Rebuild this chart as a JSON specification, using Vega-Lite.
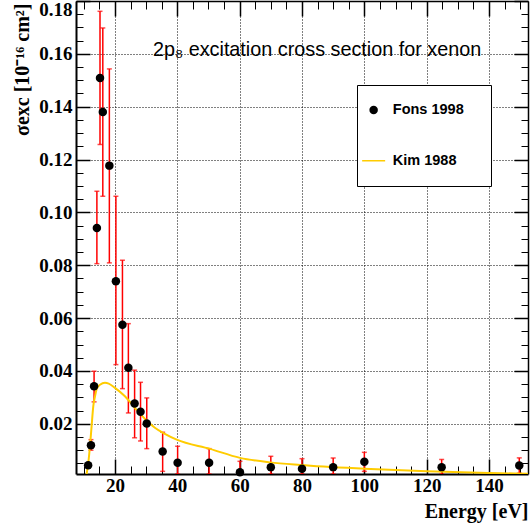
{
  "$schema": "https://vega.github.io/schema/vega-lite/v6.json",
  "width": 452,
  "height": 473,
  "autosize": {"type": "none"},
  "padding": {"left": 76, "top": 1, "right": 2, "bottom": 55},
  "background": "white",
  "config": {
    "view": {"stroke": null},
    "axis": {"domainColor": "black", "tickColor": "black", "labelColor": "black", "titleColor": "black"}
  },
  "title": {
    "text": "2p₈ excitation cross section for xenon",
    "anchor": "start",
    "frame": "group",
    "dx": 77,
    "offset": -76,
    "baseline": "alphabetic",
    "font": "Liberation Sans",
    "fontSize": 19.8,
    "fontWeight": "normal",
    "color": "black"
  },
  "datasets": {
    "fons": [
      {"E": 11.4, "sigma": 0.0043, "lo": 0.0037, "hi": 0.0049, "series": "Fons 1998"},
      {"E": 12.3, "sigma": 0.0119, "lo": 0.0100, "hi": 0.0140, "series": "Fons 1998"},
      {"E": 13.3, "sigma": 0.0342, "lo": 0.0283, "hi": 0.0399, "series": "Fons 1998"},
      {"E": 14.2, "sigma": 0.0941, "lo": 0.0806, "hi": 0.1080, "series": "Fons 1998"},
      {"E": 15.2, "sigma": 0.1509, "lo": 0.1257, "hi": 0.1761, "series": "Fons 1998"},
      {"E": 16.1, "sigma": 0.1380, "lo": 0.1061, "hi": 0.1698, "series": "Fons 1998"},
      {"E": 18.2, "sigma": 0.1177, "lo": 0.0809, "hi": 0.1543, "series": "Fons 1998"},
      {"E": 20.3, "sigma": 0.0739, "lo": 0.0424, "hi": 0.1061, "series": "Fons 1998"},
      {"E": 22.4, "sigma": 0.0575, "lo": 0.0333, "hi": 0.0819, "series": "Fons 1998"},
      {"E": 24.3, "sigma": 0.0412, "lo": 0.0241, "hi": 0.0579, "series": "Fons 1998"},
      {"E": 26.3, "sigma": 0.0277, "lo": 0.0147, "hi": 0.0403, "series": "Fons 1998"},
      {"E": 28.2, "sigma": 0.0246, "lo": 0.0135, "hi": 0.0357, "series": "Fons 1998"},
      {"E": 30.2, "sigma": 0.0201, "lo": 0.0106, "hi": 0.0298, "series": "Fons 1998"},
      {"E": 35.3, "sigma": 0.0095, "lo": 0.0020, "hi": 0.0168, "series": "Fons 1998"},
      {"E": 40.1, "sigma": 0.0053, "lo": 0.0010, "hi": 0.0115, "series": "Fons 1998"},
      {"E": 50.2, "sigma": 0.0053, "lo": 0.0010, "hi": 0.0106, "series": "Fons 1998"},
      {"E": 60.1, "sigma": 0.0017, "lo": 0.0010, "hi": 0.0058, "series": "Fons 1998"},
      {"E": 70.0, "sigma": 0.0036, "lo": 0.0010, "hi": 0.0077, "series": "Fons 1998"},
      {"E": 80.0, "sigma": 0.0030, "lo": 0.0010, "hi": 0.0068, "series": "Fons 1998"},
      {"E": 90.0, "sigma": 0.0036, "lo": 0.0010, "hi": 0.0071, "series": "Fons 1998"},
      {"E": 100.0, "sigma": 0.0056, "lo": 0.0020, "hi": 0.0092, "series": "Fons 1998"},
      {"E": 124.8, "sigma": 0.0036, "lo": 0.0010, "hi": 0.0065, "series": "Fons 1998"},
      {"E": 149.7, "sigma": 0.0042, "lo": 0.0013, "hi": 0.0071, "series": "Fons 1998"}
    ],
    "kim": [
      {"E": 10.9, "sigma": 0.0010, "series": "Kim 1988"},
      {"E": 11.44, "sigma": 0.0052, "series": "Kim 1988"},
      {"E": 11.98, "sigma": 0.0115, "series": "Kim 1988"},
      {"E": 12.5, "sigma": 0.0190, "series": "Kim 1988"},
      {"E": 13.04, "sigma": 0.0266, "series": "Kim 1988"},
      {"E": 13.6, "sigma": 0.0304, "series": "Kim 1988"},
      {"E": 14.1, "sigma": 0.0330, "series": "Kim 1988"},
      {"E": 15.2, "sigma": 0.0348, "series": "Kim 1988"},
      {"E": 16.8, "sigma": 0.0355, "series": "Kim 1988"},
      {"E": 18.0, "sigma": 0.0352, "series": "Kim 1988"},
      {"E": 20.0, "sigma": 0.0336, "series": "Kim 1988"},
      {"E": 23.2, "sigma": 0.0304, "series": "Kim 1988"},
      {"E": 26.4, "sigma": 0.0260, "series": "Kim 1988"},
      {"E": 29.6, "sigma": 0.0219, "series": "Kim 1988"},
      {"E": 32.8, "sigma": 0.0185, "series": "Kim 1988"},
      {"E": 36.0, "sigma": 0.0162, "series": "Kim 1988"},
      {"E": 39.8, "sigma": 0.0140, "series": "Kim 1988"},
      {"E": 50.5, "sigma": 0.0105, "series": "Kim 1988"},
      {"E": 60.1, "sigma": 0.0071, "series": "Kim 1988"},
      {"E": 69.7, "sigma": 0.0054, "series": "Kim 1988"},
      {"E": 79.4, "sigma": 0.0044, "series": "Kim 1988"},
      {"E": 100.0, "sigma": 0.0030, "series": "Kim 1988"},
      {"E": 120.0, "sigma": 0.0020, "series": "Kim 1988"},
      {"E": 140.0, "sigma": 0.0014, "series": "Kim 1988"},
      {"E": 152.5, "sigma": 0.0011, "series": "Kim 1988"}
    ]
  },
  "layer": [
    {
      "data": {"name": "fons"},
      "mark": {"type": "rule", "color": "#ff0000", "strokeWidth": 1.5, "clip": true},
      "encoding": {
        "x": {
          "field": "E", "type": "quantitative",
          "scale": {"domain": [7.5, 152.5], "nice": false, "zero": false},
          "axis": {
            "orient": "bottom", "values": [20, 40, 60, 80, 100, 120, 140],
            "tickSize": -15, "tickWidth": 1.5,
            "grid": true, "gridDash": [1, 2], "gridColor": "black", "gridWidth": 1, "gridOpacity": 1,
            "domain": true, "domainWidth": 2,
            "labelFont": "Liberation Serif", "labelFontWeight": "bold", "labelFontSize": 19,
            "labelPadding": 17, "labelFlush": false,
            "title": "Energy [eV]", "titleFont": "Liberation Serif", "titleFontWeight": "bold", "titleFontSize": 20,
            "titleX": 452, "titleY": 43, "titleAlign": "right", "titleBaseline": "alphabetic", "titleAnchor": "end"
          }
        },
        "y": {
          "field": "lo", "type": "quantitative",
          "scale": {"domain": [0.001, 0.18], "nice": false, "zero": false},
          "axis": {
            "orient": "left", "values": [0.02, 0.04, 0.06, 0.08, 0.1, 0.12, 0.14, 0.16, 0.18],
            "format": ".2f",
            "tickSize": -14, "tickWidth": 1.5,
            "grid": true, "gridDash": [1, 2], "gridColor": "black", "gridWidth": 1, "gridOpacity": 1,
            "domain": true, "domainWidth": 2,
            "labelFont": "Liberation Serif", "labelFontWeight": "bold", "labelFontSize": 19,
            "labelPadding": 18, "labelFlush": true, "labelFlushOffset": 1,
            "title": "σexc [10⁻¹⁶ cm²]", "titleFont": "Liberation Serif", "titleFontWeight": "bold", "titleFontSize": 20,
            "titleX": -48, "titleY": 2, "titleAlign": "right", "titleBaseline": "alphabetic", "titleAngle": 270
          }
        },
        "y2": {"field": "hi"}
      }
    },
    {
      "data": {"name": "fons"},
      "mark": {"type": "tick", "orient": "horizontal", "color": "#ff0000", "size": 5, "thickness": 1.5, "clip": true},
      "encoding": {
        "x": {
          "field": "E", "type": "quantitative",
          "scale": {"domain": [7.5, 152.5], "nice": false, "zero": false},
          "axis": {
            "orient": "bottom",
            "values": [10, 15, 25, 30, 35, 45, 50, 55, 65, 70, 75, 85, 90, 95, 105, 110, 115, 125, 130, 135, 145, 150],
            "tickSize": -8, "tickWidth": 1, "labels": false, "domain": false, "grid": false, "title": null
          }
        },
        "y": {
          "field": "lo", "type": "quantitative",
          "scale": {"domain": [0.001, 0.18], "nice": false, "zero": false},
          "axis": {
            "orient": "left",
            "values": [0.005, 0.01, 0.015, 0.025, 0.03, 0.035, 0.045, 0.05, 0.055, 0.065, 0.07, 0.075, 0.085, 0.09, 0.095, 0.105, 0.11, 0.115, 0.125, 0.13, 0.135, 0.145, 0.15, 0.155, 0.165, 0.17, 0.175],
            "tickSize": -7, "tickWidth": 1, "labels": false, "domain": false, "grid": false, "title": null
          }
        }
      }
    },
    {
      "data": {"name": "fons"},
      "mark": {"type": "tick", "orient": "horizontal", "color": "#ff0000", "size": 5, "thickness": 1.5, "clip": true},
      "encoding": {
        "x": {
          "field": "E", "type": "quantitative",
          "scale": {"domain": [7.5, 152.5], "nice": false, "zero": false},
          "axis": {
            "orient": "top", "values": [20, 40, 60, 80, 100, 120, 140],
            "tickSize": -15, "tickWidth": 1.5, "labels": false, "domain": true, "domainWidth": 1.5, "grid": false, "title": null
          }
        },
        "y": {
          "field": "hi", "type": "quantitative",
          "scale": {"domain": [0.001, 0.18], "nice": false, "zero": false},
          "axis": {
            "orient": "right", "values": [0.02, 0.04, 0.06, 0.08, 0.1, 0.12, 0.14, 0.16, 0.18],
            "tickSize": -14, "tickWidth": 1.5, "labels": false, "domain": true, "domainWidth": 1.5, "grid": false, "title": null
          }
        }
      }
    },
    {
      "data": {"name": "kim"},
      "mark": {"type": "line", "strokeWidth": 2, "clip": true, "interpolate": "monotone"},
      "encoding": {
        "x": {
          "field": "E", "type": "quantitative",
          "scale": {"domain": [7.5, 152.5], "nice": false, "zero": false},
          "axis": {
            "orient": "top",
            "values": [10, 15, 25, 30, 35, 45, 50, 55, 65, 70, 75, 85, 90, 95, 105, 110, 115, 125, 130, 135, 145, 150],
            "tickSize": -8, "tickWidth": 1, "labels": false, "domain": false, "grid": false, "title": null
          }
        },
        "y": {
          "field": "sigma", "type": "quantitative",
          "scale": {"domain": [0.001, 0.18], "nice": false, "zero": false},
          "axis": {
            "orient": "right",
            "values": [0.005, 0.01, 0.015, 0.025, 0.03, 0.035, 0.045, 0.05, 0.055, 0.065, 0.07, 0.075, 0.085, 0.09, 0.095, 0.105, 0.11, 0.115, 0.125, 0.13, 0.135, 0.145, 0.15, 0.155, 0.165, 0.17, 0.175],
            "tickSize": -7, "tickWidth": 1, "labels": false, "domain": false, "grid": false, "title": null
          }
        },
        "color": {
          "field": "series", "type": "nominal",
          "scale": {"domain": ["Fons 1998", "Kim 1988"], "range": ["black", "#ffcc00"]},
          "legend": {
            "orient": "none", "legendX": 281, "legendY": 84, "direction": "vertical",
            "title": "\u00a0", "titleOrient": "right", "titlePadding": 21.1, "titleFontSize": 11,
            "strokeColor": "black", "fillColor": "white", "padding": 5,
            "symbolSize": 529, "symbolStrokeWidth": 1.5, "symbolOffset": 4.4, "labelOffset": 11.9,
            "clipHeight": 40, "rowPadding": 10.7,
            "labelFont": "Liberation Sans", "labelFontWeight": "bold", "labelFontSize": 14.5, "labelColor": "black",
            "encoding": {
              "symbols": {
                "shape": {"value": {"expr": "datum.value === 'Kim 1988' ? 'stroke' : 'circle'"}},
                "size": {"value": {"expr": "datum.value === 'Kim 1988' ? 529 : 72"}},
                "fill": {"value": {"expr": "datum.value === 'Kim 1988' ? 'transparent' : 'black'"}},
                "stroke": {"value": {"expr": "datum.value === 'Kim 1988' ? '#ffcc00' : 'black'"}},
                "strokeWidth": {"value": {"expr": "datum.value === 'Kim 1988' ? 1.5 : 0"}},
                "opacity": {"value": 1}
              }
            }
          }
        }
      }
    },
    {
      "data": {"name": "fons"},
      "mark": {"type": "circle", "size": 72, "opacity": 1},
      "encoding": {
        "x": {
          "field": "E", "type": "quantitative",
          "scale": {"domain": [7.5, 152.5], "nice": false, "zero": false},
          "axis": null
        },
        "y": {
          "field": "sigma", "type": "quantitative",
          "scale": {"domain": [0.001, 0.18], "nice": false, "zero": false},
          "axis": null
        },
        "color": {
          "field": "series", "type": "nominal",
          "scale": {"domain": ["Fons 1998", "Kim 1988"], "range": ["black", "#ffcc00"]},
          "legend": {
            "orient": "none", "legendX": 281, "legendY": 84, "direction": "vertical",
            "title": "\u00a0", "titleOrient": "right", "titlePadding": 21.1, "titleFontSize": 11,
            "strokeColor": "black", "fillColor": "white", "padding": 5,
            "symbolSize": 529, "symbolStrokeWidth": 1.5, "symbolOffset": 4.4, "labelOffset": 11.9,
            "clipHeight": 40, "rowPadding": 10.7,
            "labelFont": "Liberation Sans", "labelFontWeight": "bold", "labelFontSize": 14.5, "labelColor": "black",
            "encoding": {
              "symbols": {
                "shape": {"value": {"expr": "datum.value === 'Kim 1988' ? 'stroke' : 'circle'"}},
                "size": {"value": {"expr": "datum.value === 'Kim 1988' ? 529 : 72"}},
                "fill": {"value": {"expr": "datum.value === 'Kim 1988' ? 'transparent' : 'black'"}},
                "stroke": {"value": {"expr": "datum.value === 'Kim 1988' ? '#ffcc00' : 'black'"}},
                "strokeWidth": {"value": {"expr": "datum.value === 'Kim 1988' ? 1.5 : 0"}},
                "opacity": {"value": 1}
              }
            }
          }
        }
      }
    }
  ],
  "resolve": {"axis": {"x": "independent", "y": "independent"}}
}
